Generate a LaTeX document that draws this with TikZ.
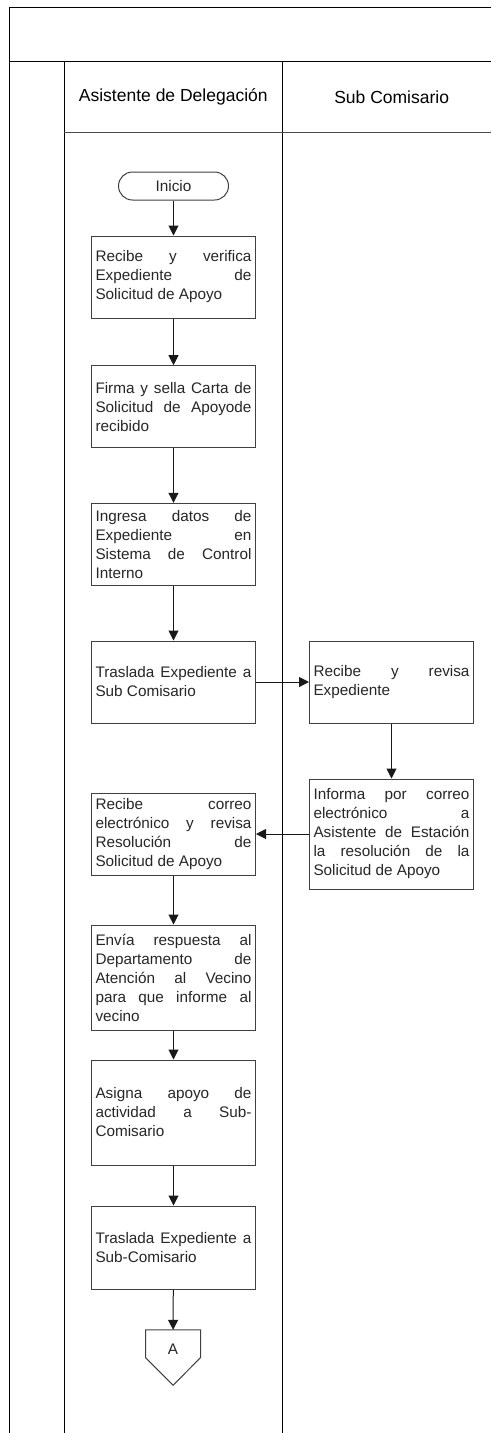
\documentclass[tikz,border=0pt]{standalone}
\usepackage{fontspec}
\setmainfont{Liberation Sans}
\usetikzlibrary{arrows.meta}
\tolerance=10000
\hbadness=10000
\hyphenpenalty=10000

\begin{document}
\begin{tikzpicture}[x=1pt,y=-1pt]
\tikzstyle{every node}+=[inner sep=0pt]
\tikzstyle{lane}=[black, line width=1pt]
\tikzstyle{proc}=[draw=black!75, line width=1pt, text=black!85, font=\fontsize{15.3}{19}\selectfont, text width=156pt, inner xsep=4pt, align=justify, minimum height=82pt]
\tikzstyle{title}=[text=black, font=\fontsize{17.5}{21}\selectfont]
\tikzstyle{arr}=[black!90, line width=1pt, -{Triangle[length=10pt,width=10pt]}]
\useasboundingbox (0,0) rectangle (491,1433);
\draw [lane] (491,7) -- (9.5,7) -- (9.5,1433);
\draw [lane] (9.5,61) -- (491,61);
\draw [lane] (64,61) -- (64,1433);
\draw [lane] (282.5,61) -- (282.5,1433);
\draw [black!70, line width=1pt] (64,132) -- (491,132);
\node [title] (tasi) at (173.3,97) {Asistente de Delegación};
\node [title] (tsub) at (391.7,97) {Sub Comisario};
\node [draw=black!75, line width=1pt, text=black!85, font=\fontsize{15.3}{19}\selectfont, rounded corners=14pt, minimum width=110pt, minimum height=28pt] (ini) at (173.5,186) {Inicio};
\node [proc] (rec) at (173.5,277) {Recibe y verifica\linebreak Expediente de\linebreak Solicitud de Apoyo};
\node [proc] (fir) at (173.5,406.7) {Firma y sella Carta de\linebreak Solicitud de Apoyode\linebreak recibido};
\node [proc] (ing) at (173.5,544.3) {Ingresa datos de\linebreak Expediente en\linebreak Sistema de Control\linebreak Interno};
\node [proc] (tra) at (173.5,682) {Traslada Expediente a\linebreak Sub Comisario};
\node [proc] (rev) at (391.5,682) {Recibe y revisa\linebreak Expediente};
\node [proc, minimum height=110pt] (inf) at (391.5,834) {Informa por correo\linebreak electrónico a\linebreak Asistente de Estación\linebreak la resolución de la\linebreak Solicitud de Apoyo};
\node [proc] (cor) at (173.5,834) {Recibe correo\linebreak electrónico y revisa\linebreak Resolución de\linebreak Solicitud de Apoyo};
\node [proc, minimum height=105pt] (env) at (173.5,977.5) {Envía respuesta al\linebreak Departamento de\linebreak Atención al Vecino\linebreak para que informe al\linebreak vecino};
\node [proc, minimum height=105pt] (asg) at (173.5,1112.5) {Asigna apoyo de\linebreak actividad a Sub-\linebreak Comisario};
\node [proc, minimum height=83pt] (tsc) at (173.5,1247.5) {Traslada Expediente a\linebreak Sub-Comisario};
\node [text=black!85, font=\fontsize{15.3}{19}\selectfont, text height=22pt, text depth=0pt, minimum width=54.6pt, minimum height=27.3pt] (cA) at (173,1343.7) {A};
\draw [draw=black!75, line width=1pt] (cA.north west) -- (cA.north east) -- (cA.south east) -- ++(-27.3,27.7) -- (cA.south west) -- cycle;
\draw [arr] (ini) -- (rec);
\draw [arr] (rec) -- (fir);
\draw [arr] (fir) -- (ing);
\draw [arr] (ing) -- (tra);
\draw [arr] (tra) -- (rev);
\draw [arr] (rev) -- (inf);
\draw [arr] (inf) -- (cor);
\draw [arr] (cor) -- (env);
\draw [arr] (env) -- (asg);
\draw [arr] (asg) -- (tsc);
\draw [arr] (tsc) -- (cA);
\end{tikzpicture}
\end{document}
